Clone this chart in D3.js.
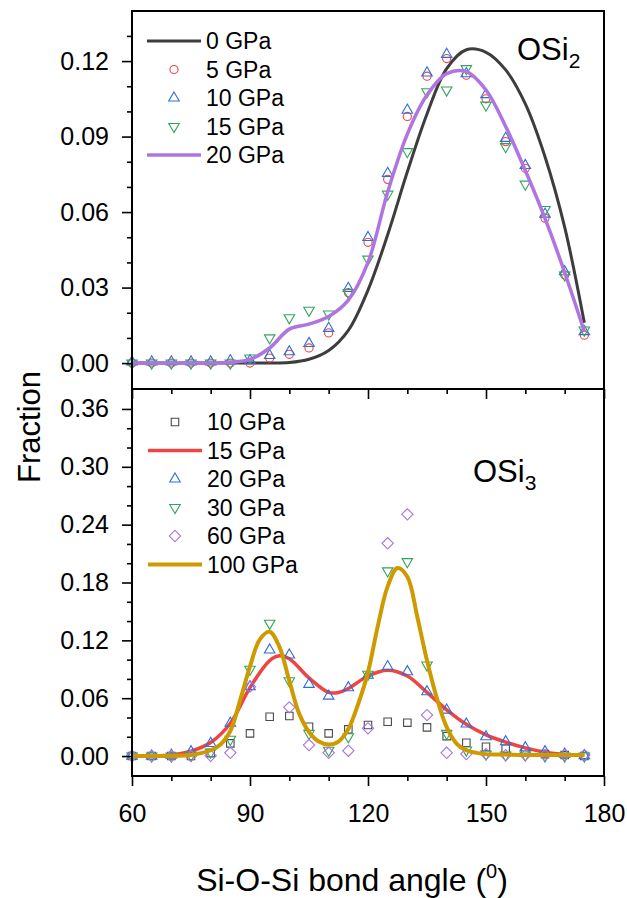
<!DOCTYPE html>
<html>
<head>
<meta charset="utf-8">
<script src="https://cdn.jsdelivr.net/npm/d3@7"></script>
<style>
  body { margin: 0; background: #fff; }
  svg text { font-family: Arial, "Liberation Sans", sans-serif; fill: #000; }
</style>
</head>
<body>
<svg id="chart" width="627" height="898"></svg>
<script>
// Bond angle grid used by all marker series
var angles = [60, 65, 70, 75, 80, 85, 90, 95, 100, 105, 110, 115, 120, 125, 130, 135, 140, 145, 150, 155, 160, 165, 170, 175];

// ---- OSi2 panel ----
var osi2Red5 = [0, 0, 0, 0, 0, 0, 0, 0.002, 0.0035, 0.006, 0.012, 0.028, 0.048, 0.073, 0.098, 0.114, 0.121, 0.1144, 0.105, 0.088, 0.0774, 0.0576, 0.035, 0.0111];
var osi2Blue10 = [0.0005, 0.0005, 0.0005, 0.0005, 0.0005, 0.001, 0.001, 0.003, 0.0045, 0.0078, 0.0138, 0.0297, 0.0499, 0.0754, 0.1005, 0.1153, 0.1227, 0.115, 0.1067, 0.0893, 0.0785, 0.0592, 0.0363, 0.0125];
var osi2Green15 = [0, 0, 0, 0, 0, 0, 0.002, 0.010, 0.018, 0.021, 0.0195, 0.028, 0.0413, 0.0671, 0.084, 0.1078, 0.1085, 0.117, 0.1025, 0.086, 0.0711, 0.061, 0.035, 0.0131];

var osi2CurveAngles = [60, 65, 70, 75, 80, 85, 90, 95, 100, 105, 110, 115, 120, 125, 130, 135, 140, 145, 150, 155, 160, 165, 170, 175];
var osi2Gray0 = [0, 0, 0, 0, 0, 0, 0, 0, 0.0002, 0.0015, 0.005, 0.013, 0.029, 0.051, 0.076, 0.099, 0.117, 0.1245, 0.1235, 0.1165, 0.103, 0.082, 0.054, 0.016];
var osi2Purple20 = [0, 0, 0, 0, 0, 0.0003, 0.0015, 0.006, 0.0135, 0.0155, 0.0185, 0.025, 0.040, 0.068, 0.091, 0.1065, 0.115, 0.1158, 0.1085, 0.094, 0.0765, 0.0575, 0.036, 0.0125];

// ---- OSi3 panel ----
var osi3Sq10 = [0, 0, 0, 0, 0.003, 0.0131, 0.0235, 0.0408, 0.0415, 0.0304, 0.0235, 0.0277, 0.0322, 0.0356, 0.0346, 0.0297, 0.0207, 0.0138, 0.0097, 0.0075, 0.004, 0.002, 0.001, 0];
var osi3Blue20 = [0, 0, 0.001, 0.0045, 0.0131, 0.034, 0.072, 0.110, 0.1048, 0.0744, 0.0622, 0.0709, 0.084, 0.0927, 0.0875, 0.0667, 0.0477, 0.0332, 0.020, 0.0148, 0.0086, 0.0045, 0.002, 0.0005];
var osi3Green30 = [0, 0, 0, 0.001, 0.004, 0.0173, 0.090, 0.1377, 0.078, 0.0235, 0.006, 0.020, 0.0848, 0.192, 0.2016, 0.0944, 0.0235, 0.0062, 0.002, 0.001, 0.001, 0, 0, 0];
var osi3Diamond60 = [0, 0, 0, 0, 0.0003, 0.0034, 0.072, null, 0.0505, 0.0114, 0.0034, 0.0055, 0.0287, 0.2207, 0.2507, 0.0425, 0.0034, 0.0021, 0.002, 0.001, 0.001, 0.001, 0.001, 0.001];

var osi3RedAngles = [60, 65, 70, 75, 80, 85, 90, 95, 97.5, 100, 105, 110, 112.5, 115, 120, 125, 130, 135, 140, 145, 150, 155, 160, 165, 170, 175];
var osi3Red15 = [0, 0, 0.001, 0.005, 0.014, 0.034, 0.071, 0.099, 0.104, 0.101, 0.081, 0.066, 0.066, 0.070, 0.083, 0.089, 0.083, 0.066, 0.048, 0.033, 0.022, 0.0145, 0.0085, 0.004, 0.0015, 0.0005];

var osi3GoldAngles = [60, 65, 70, 75, 77.5, 80, 82.5, 85, 87.5, 90, 92.5, 95, 97.5, 100, 102.5, 105, 107.5, 110, 112.5, 115, 117.5, 120, 122.5, 125, 127.5, 130, 132.5, 135, 137.5, 140, 142.5, 145, 150, 155, 160, 165, 170, 175];
var osi3Gold100 = [0, 0, 0, 0.001, 0.003, 0.006, 0.012, 0.026, 0.058, 0.093, 0.121, 0.129, 0.113, 0.078, 0.044, 0.025, 0.015, 0.012, 0.015, 0.028, 0.054, 0.087, 0.135, 0.176, 0.195, 0.186, 0.145, 0.099, 0.060, 0.030, 0.013, 0.006, 0.002, 0.0015, 0.001, 0.001, 0.001, 0.001];

// tick values
var xMajorTicks = [60, 90, 120, 150, 180];
var xMinorTicks = [70, 80, 100, 110, 130, 140, 160, 170];
var topMajorTicks = [0, 0.03, 0.06, 0.09, 0.12];
var topMinorTicks = [0.01, 0.02, 0.04, 0.05, 0.07, 0.08, 0.10, 0.11, 0.13];
var botMajorTicks = [0, 0.06, 0.12, 0.18, 0.24, 0.30, 0.36];
var botMinorTicks = [0.02, 0.04, 0.08, 0.10, 0.14, 0.16, 0.20, 0.22, 0.26, 0.28, 0.32, 0.34];

var colors = {
    gray: '#3d3d3d', red: '#ee4444', blue: '#2a6fdd', green: '#32a55c',
    purple: '#b074e0', square: '#4a4a4a', diamond: '#a874e0', gold: '#cf9a00'
};

var left = 132, right = 604;
var svg = d3.select('#chart');

var xScale = d3.scaleLinear().domain([60, 180]).range([left, right]);
var yTop = d3.scaleLinear().domain([-0.0103, 0.1399]).range([389, 11]);
var yBot = d3.scaleLinear().domain([-0.0207, 0.3807]).range([776, 389]);

// marker shapes
var sym = {
    circle: d3.symbol().type(d3.symbolCircle).size(52)(),
    up: d3.symbol().type(d3.symbolTriangle).size(48)(),
    square: d3.symbol().type(d3.symbolSquare).size(56)(),
    diamond: d3.symbol().type(d3.symbolSquare).size(64)()
};
function markerTransform(kind, x, y) {
    if (kind === 'down') return 'translate(' + x + ',' + y + ') rotate(180)';
    if (kind === 'diamond') return 'translate(' + x + ',' + y + ') rotate(45)';
    return 'translate(' + x + ',' + y + ')';
}
function markerPath(kind) {
    return kind === 'down' ? sym.up : sym[kind];
}

function drawMarkers(g, yScale, values, kind, color) {
    var pts = angles.map(function(a, i) { return { a: a, v: values[i] }; })
        .filter(function(d) { return d.v !== null; });
    g.selectAll(null)
        .data(pts)
        .enter()
        .append('path')
        .attr('d', markerPath(kind))
        .attr('transform', function(d) { return markerTransform(kind, xScale(d.a), yScale(d.v)); })
        .attr('fill', 'none')
        .attr('stroke', color)
        .attr('stroke-width', 1.1);
}

function drawCurve(g, yScale, xs, ys, color, width) {
    var line = d3.line()
        .x(function(d) { return xScale(d[0]); })
        .y(function(d) { return yScale(d[1]); })
        .curve(d3.curveCatmullRom.alpha(0.5));
    g.append('path')
        .datum(xs.map(function(a, i) { return [a, ys[i]]; }))
        .attr('d', line)
        .attr('fill', 'none')
        .attr('stroke', color)
        .attr('stroke-width', width)
        .attr('stroke-linejoin', 'round');
}

function legendRow(g, x, y, item) {
    if (item.line) {
        g.append('line')
            .attr('x1', x - 27).attr('x2', x + 27)
            .attr('y1', y).attr('y2', y)
            .attr('stroke', item.color)
            .attr('stroke-width', item.width);
    } else {
        g.append('path')
            .attr('d', markerPath(item.kind))
            .attr('transform', markerTransform(item.kind, x, y))
            .attr('fill', 'none')
            .attr('stroke', item.color)
            .attr('stroke-width', 1.1);
    }
    g.append('text')
        .attr('x', x + 32)
        .attr('y', y + 8)
        .style('font-size', '23px')
        .text(item.label);
}

// ---------- top panel (OSi2) ----------
var gTop = svg.append('g');

drawCurve(gTop, yTop, osi2CurveAngles, osi2Gray0, colors.gray, 3);
drawMarkers(gTop, yTop, osi2Red5, 'circle', colors.red);
drawMarkers(gTop, yTop, osi2Blue10, 'up', colors.blue);
drawMarkers(gTop, yTop, osi2Green15, 'down', colors.green);
drawCurve(gTop, yTop, osi2CurveAngles, osi2Purple20, colors.purple, 3.5);

var topLegend = [
    { label: '0 GPa', line: true, color: colors.gray, width: 3 },
    { label: '5 GPa', kind: 'circle', color: colors.red },
    { label: '10 GPa', kind: 'up', color: colors.blue },
    { label: '15 GPa', kind: 'down', color: colors.green },
    { label: '20 GPa', line: true, color: colors.purple, width: 3.5 }
];
topLegend.forEach(function(item, i) {
    legendRow(gTop, 174, 41 + i * 28.5, item);
});

var tTop = gTop.append('text').attr('x', 517).attr('y', 60).style('font-size', '31px');
tTop.append('tspan').text('OSi');
tTop.append('tspan').attr('dy', 8).style('font-size', '21px').text('2');

// left axis of top panel
gTop.append('g')
    .attr('transform', 'translate(' + left + ',0)')
    .call(d3.axisLeft(yTop).tickValues(topMajorTicks).tickSize(10).tickPadding(13).tickFormat(d3.format('.2f')))
    .call(function(g) { g.select('.domain').remove(); });
gTop.append('g')
    .attr('transform', 'translate(' + left + ',0)')
    .call(d3.axisLeft(yTop).tickValues(topMinorTicks).tickSize(5).tickFormat(''))
    .call(function(g) { g.select('.domain').remove(); });
// bottom ticks of top panel (no labels)
gTop.append('g')
    .attr('transform', 'translate(0,389)')
    .call(d3.axisBottom(xScale).tickValues(xMajorTicks).tickSize(10).tickFormat(''))
    .call(function(g) { g.select('.domain').remove(); });
gTop.append('g')
    .attr('transform', 'translate(0,389)')
    .call(d3.axisBottom(xScale).tickValues(xMinorTicks).tickSize(5).tickFormat(''))
    .call(function(g) { g.select('.domain').remove(); });

// ---------- bottom panel (OSi3) ----------
var gBot = svg.append('g');

drawMarkers(gBot, yBot, osi3Sq10, 'square', colors.square);
drawCurve(gBot, yBot, osi3RedAngles, osi3Red15, colors.red, 3.5);
drawMarkers(gBot, yBot, osi3Blue20, 'up', colors.blue);
drawMarkers(gBot, yBot, osi3Green30, 'down', colors.green);
drawMarkers(gBot, yBot, osi3Diamond60, 'diamond', colors.diamond);
drawCurve(gBot, yBot, osi3GoldAngles, osi3Gold100, colors.gold, 4);

var botLegend = [
    { label: '10 GPa', kind: 'square', color: colors.square },
    { label: '15 GPa', line: true, color: colors.red, width: 3.5 },
    { label: '20 GPa', kind: 'up', color: colors.blue },
    { label: '30 GPa', kind: 'down', color: colors.green },
    { label: '60 GPa', kind: 'diamond', color: colors.diamond },
    { label: '100 GPa', line: true, color: colors.gold, width: 4 }
];
botLegend.forEach(function(item, i) {
    legendRow(gBot, 175, 422 + i * 28.5, item);
});

var tBot = gBot.append('text').attr('x', 473).attr('y', 482).style('font-size', '31px');
tBot.append('tspan').text('OSi');
tBot.append('tspan').attr('dy', 8).style('font-size', '21px').text('3');

gBot.append('g')
    .attr('transform', 'translate(' + left + ',0)')
    .call(d3.axisLeft(yBot).tickValues(botMajorTicks).tickSize(10).tickPadding(13).tickFormat(d3.format('.2f')))
    .call(function(g) { g.select('.domain').remove(); });
gBot.append('g')
    .attr('transform', 'translate(' + left + ',0)')
    .call(d3.axisLeft(yBot).tickValues(botMinorTicks).tickSize(5).tickFormat(''))
    .call(function(g) { g.select('.domain').remove(); });
gBot.append('g')
    .attr('transform', 'translate(0,776)')
    .call(d3.axisBottom(xScale).tickValues(xMajorTicks).tickSize(10).tickPadding(18))
    .call(function(g) { g.select('.domain').remove(); });
gBot.append('g')
    .attr('transform', 'translate(0,776)')
    .call(d3.axisBottom(xScale).tickValues(xMinorTicks).tickSize(5).tickFormat(''))
    .call(function(g) { g.select('.domain').remove(); });

// style the axes
svg.selectAll('.tick line').attr('stroke', '#000').attr('stroke-width', 1.6);
svg.selectAll('.tick text').style('font-size', '25px').attr('font-family', null);

// frames
svg.append('rect').attr('x', left).attr('y', 11).attr('width', right - left).attr('height', 378)
    .attr('fill', 'none').attr('stroke', '#000').attr('stroke-width', 2);
svg.append('rect').attr('x', left).attr('y', 389).attr('width', right - left).attr('height', 387)
    .attr('fill', 'none').attr('stroke', '#000').attr('stroke-width', 2);

// axis titles
svg.append('text')
    .attr('transform', 'translate(40,427) rotate(-90)')
    .attr('text-anchor', 'middle')
    .style('font-size', '31px')
    .text('Fraction');

var xt = svg.append('text')
    .attr('x', 352)
    .attr('y', 891)
    .attr('text-anchor', 'middle')
    .style('font-size', '32px');
xt.append('tspan').text('Si-O-Si bond angle (');
xt.append('tspan').attr('dy', -13).style('font-size', '20px').text('0');
xt.append('tspan').attr('dy', 13).text(')');
</script>
</body>
</html>
